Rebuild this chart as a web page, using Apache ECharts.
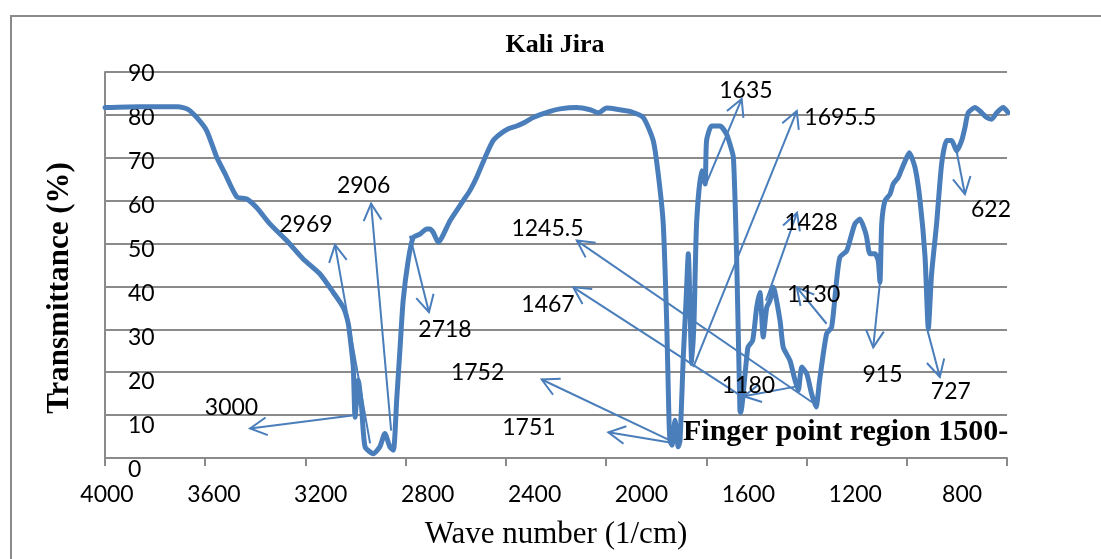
<!DOCTYPE html>
<html>
<head>
<meta charset="utf-8">
<title>Kali Jira</title>
<script src="https://cdn.jsdelivr.net/npm/echarts@6/dist/echarts.min.js"></script>
<style>
  html, body { margin: 0; padding: 0; background: #ffffff; }
  #chart { width: 1101px; height: 559px; }
</style>
</head>
<body>
<div id="chart"></div>
<script>
// FTIR spectrum of Kali Jira: wavenumber (1/cm) against transmittance (%)
const wavenumber = [
  4000, 3860, 3709, 3669, 3634, 3594, 3554, 3521, 3474, 3434, 3395, 3342, 3275, 3209, 3142, 3089, 3049, 3029,
  3018, 3009, 3002, 2989, 2976, 2962, 2929, 2903, 2883, 2863, 2849, 2836, 2823, 2810, 2790, 2770, 2743,
  2716, 2703, 2690, 2670, 2623, 2570, 2543, 2517, 2477, 2451, 2424, 2392, 2357, 2324, 2291, 2224, 2184,
  2117, 2064, 2031, 1998, 1945, 1905, 1852,
  1812, 1792, 1772, 1758, 1749, 1745, 1737, 1725, 1712, 1705, 1692, 1681, 1672, 1658, 1649, 1639, 1619,
  1605, 1599, 1579, 1545, 1519, 1506, 1492, 1479, 1466, 1463, 1434, 1415, 1399, 1386, 1373, 1359, 1346,
  1333, 1306, 1293, 1266, 1246, 1233, 1219, 1199, 1180, 1162, 1148, 1120, 1100, 1080, 1067, 1040, 1027,
  1007, 987, 967, 960, 947, 927, 914, 907, 900, 887, 867, 854, 834, 820, 800, 790, 767, 747, 727, 714,
  701, 681, 661, 641, 621, 601, 581, 568, 555, 528, 508, 481, 461, 441, 415, 395
];
const transmittance = [
  81.7, 81.9, 81.9, 81.3, 79.4, 76.3, 70.1, 66.3, 60.9, 60.4, 58.4, 54.6, 50.7, 46.4, 42.9, 38.6, 35.1, 31.3,
  26.2, 21.2, 9.5, 18.1, 11.9, 2.6, 1.0, 2.6, 5.7, 2.6, 1.8, 13.4, 25.1, 36.7, 46.0, 51.4, 52.2,
  53.4, 53.4, 52.6, 50.3, 55.3, 60.0, 62.4, 65.4, 70.9, 74.0, 75.5, 76.7, 77.4, 78.3, 79.4, 80.8, 81.4,
  81.7, 81.2, 80.5, 81.6, 81.2, 80.8, 79.4,
  74.0, 66.2, 54.6, 31.3, 8.8, 4.1, 3.0, 8.8, 2.6, 4.1, 23.5, 36.7, 47.6, 22.0, 32.1, 54.6, 67.0,
  63.9, 74.0, 77.4, 77.4, 75.5, 73.2, 70.1, 46.8, 11.1, 10.6, 25.8, 27.4, 35.1, 38.6, 28.2, 35.1, 36.7,
  39.8, 32.1, 25.8, 22.7, 18.1, 15.8, 21.2, 19.6, 15.0, 11.9, 18.1, 29.0, 30.5, 41.4, 46.8, 48.3, 50.7,
  54.6, 55.7, 53.0, 51.4, 47.6, 47.6, 46.0, 41.0, 54.6, 60.0, 61.5, 63.9, 65.4, 67.4, 70.1, 71.2, 67.7, 60.0, 46.8, 30.1,
  42.9, 54.6, 68.5, 74.0, 74.0, 71.6, 74.0, 77.0, 80.5, 81.7, 80.9, 79.4, 79.0, 80.5, 81.7, 80.5
];

// axis tick labels
const xTickLabels = ['4000', '3600', '3200', '2800', '2400', '2000', '1600', '1200', '800'];
const yTickLabels = ['0', '10', '20', '30', '40', '50', '60', '70', '80', '90'];

// band assignments: label text, arrow tail, arrow head, label centre (wavenumber, %T)
const bandLabels = ['3000', '2969', '2906', '2718', '1752', '1751', '1467', '1245.5', '1180',
                    '1635', '1695.5', '1428', '1130', '915', '727', '622'];
const callouts = [
  { tail: [3014, 9.9],  head: [3421, 6.9],  at: [3495, 11.8] },
  { tail: [2942, 3.4],  head: [3082, 49.7], at: [3198, 54.4] },
  { tail: [2858, 6.4],  head: [2938, 59.3], at: [2968, 63.5] },
  { tail: [2783, 51.8], head: [2707, 34.0], at: [2643, 30.0] },
  { tail: [1745, 4.1],  head: [2257, 18.3], at: [2513, 19.9] },
  { tail: [1745, 3.6],  head: [1991, 6.0],  at: [2308, 7.2] },
  { tail: [1446, 13.9], head: [2131, 39.8], at: [2232, 35.8] },
  { tail: [1178, 13.0], head: [2117, 50.7], at: [2234, 53.5] },
  { tail: [1238, 16.7], head: [1450, 14.4], at: [1432, 16.9] },
  { tail: [1599, 64.2], head: [1459, 83.7], at: [1442, 85.6] },
  { tail: [1652, 21.2], head: [1239, 80.9], at: [1065, 79.3] },
  { tail: [1362, 36.7], head: [1238, 57.2], at: [1182, 54.9] },
  { tail: [1120, 31.3], head: [1239, 39.8], at: [1172, 38.1] },
  { tail: [907, 41.0],  head: [934, 25.8],  at: [897, 19.5] },
  { tail: [717, 29.7],  head: [668, 18.9],  at: [624, 15.5] },
  { tail: [604, 72.4],  head: [568, 61.5],  at: [464, 57.9] }
];

const BLUE = '#4a7ebb';
const GREY = '#8a8a8a';
const NUM_FONT = 'Lato, "Open Sans", sans-serif';
const SERIF = '"Liberation Serif", "DejaVu Serif", serif';

const spectrum = wavenumber.map((w, i) => [w, transmittance[i]]);
const calloutData = callouts.map(c => [c.tail[0], c.tail[1], c.head[0], c.head[1], c.at[0], c.at[1]]);

const chart = echarts.init(document.getElementById('chart'), null, { renderer: 'canvas' });

chart.setOption({
  animation: false,
  backgroundColor: '#ffffff',
  grid: [
    // plotting area
    { left: 105, right: 94, top: 72, bottom: 101 },
    // frame carrying the tick labels
    { left: 107, right: 32, top: 73.5, bottom: 89.5 }
  ],
  xAxis: [
    {
      gridIndex: 0, type: 'value', min: 400, max: 4000, interval: 400, inverse: true,
      axisLine: { show: true, onZero: false, lineStyle: { color: GREY, width: 2 } },
      axisTick: { show: true, length: 8, lineStyle: { color: GREY, width: 2 } },
      axisLabel: { show: false },
      splitLine: { show: false }
    },
    {
      gridIndex: 1, type: 'value', min: 400, max: 4000, interval: 400, inverse: true,
      axisLine: { show: false }, axisTick: { show: false }, splitLine: { show: false },
      axisLabel: {
        show: true, margin: 14, color: '#000000', fontFamily: NUM_FONT, fontSize: 23,
        formatter: v => xTickLabels.includes(String(v)) ? String(v) : ''
      }
    }
  ],
  yAxis: [
    {
      gridIndex: 0, type: 'value', min: 0, max: 90, interval: 10,
      axisLine: { show: true, lineStyle: { color: GREY, width: 2 } },
      axisTick: { show: false },
      axisLabel: { show: false },
      splitLine: { show: true, lineStyle: { color: GREY, width: 2 } }
    },
    {
      gridIndex: 1, type: 'value', min: 0, max: 90, interval: 10,
      axisLine: { show: false }, axisTick: { show: false }, splitLine: { show: false },
      axisLabel: {
        show: true, inside: true, margin: 21, align: 'left', color: '#000000',
        fontFamily: NUM_FONT, fontSize: 23,
        formatter: v => yTickLabels.includes(String(v)) ? String(v) : ''
      }
    }
  ],
  series: [
    {
      name: 'Kali Jira',
      type: 'line',
      xAxisIndex: 0, yAxisIndex: 0,
      data: spectrum,
      showSymbol: false,
      smooth: 0.2,
      clip: false,
      z: 3,
      lineStyle: { color: BLUE, width: 5, join: 'round', cap: 'round' }
    },
    {
      name: 'bands',
      type: 'custom',
      xAxisIndex: 0, yAxisIndex: 0,
      data: calloutData,
      encode: { x: [0, 2, 4], y: [1, 3, 5] },
      clip: false,
      z: 5,
      renderItem: function (params, api) {
        const tail = api.coord([api.value(0), api.value(1)]);
        const head = api.coord([api.value(2), api.value(3)]);
        const at = api.coord([api.value(4), api.value(5)]);
        const dx = tail[0] - head[0], dy = tail[1] - head[1];
        const len = Math.hypot(dx, dy) || 1;
        const ux = dx / len, uy = dy / len;
        const a = 28 * Math.PI / 180, L = 19;
        const wing = s => [
          head[0] + L * (ux * Math.cos(s * a) - uy * Math.sin(s * a)),
          head[1] + L * (ux * Math.sin(s * a) + uy * Math.cos(s * a))
        ];
        return {
          type: 'group',
          children: [
            { type: 'line', shape: { x1: tail[0], y1: tail[1], x2: head[0], y2: head[1] },
              style: { stroke: BLUE, lineWidth: 2 } },
            { type: 'polyline', shape: { points: [wing(1), head, wing(-1)] },
              style: { stroke: BLUE, lineWidth: 2, fill: null } },
            { type: 'text', x: at[0], y: at[1],
              style: { text: bandLabels[params.dataIndex], fill: '#000000',
                       font: '23px ' + NUM_FONT, align: 'center', verticalAlign: 'middle' } }
          ]
        };
      }
    }
  ],
  graphic: [
    { type: 'rect', silent: true, z: 0,
      shape: { x: 11, y: 16, width: 1200, height: 700 },
      style: { fill: null, stroke: GREY, lineWidth: 2 } },
    { type: 'text', x: 555, y: 45, z: 10,
      style: { text: 'Kali Jira', font: 'bold 26px ' + SERIF, fill: '#000000',
               align: 'center', verticalAlign: 'middle' } },
    { type: 'text', x: 60, y: 288, rotation: Math.PI / 2, z: 10,
      style: { text: 'Transmittance (%)', font: 'bold 31px ' + SERIF, fill: '#000000',
               align: 'center', verticalAlign: 'middle' } },
    { type: 'text', x: 556, y: 535, z: 10,
      style: { text: 'Wave number (1/cm)', font: '31px ' + SERIF, fill: '#000000',
               align: 'center', verticalAlign: 'middle' } },
    { type: 'text', x: 683, y: 432, z: 10,
      style: { text: 'Finger point region 1500-', font: 'bold 30px ' + SERIF, fill: '#000000',
               align: 'left', verticalAlign: 'middle' } }
  ]
});
</script>
</body>
</html>
